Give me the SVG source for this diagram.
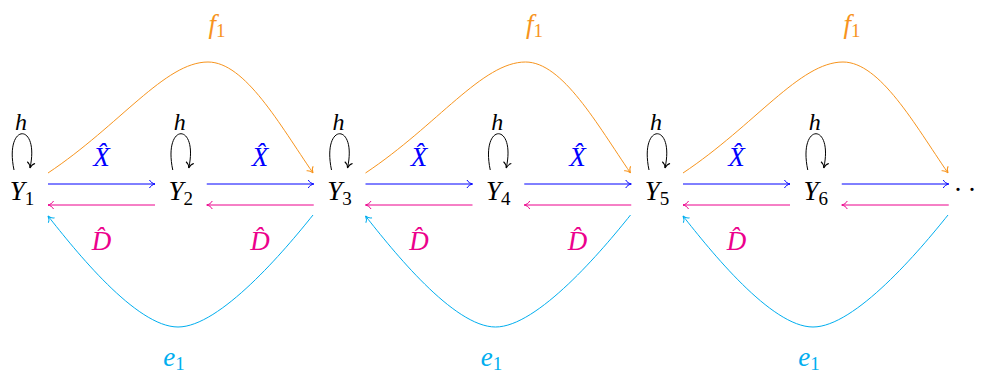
<svg xmlns="http://www.w3.org/2000/svg" width="984" height="379" viewBox="0 0 984 379">
<style>
  text { font-family: "Liberation Serif", "DejaVu Serif", serif; font-size: 27px; text-anchor: middle; }
  .m { font-style: italic; }
  .sub { font-style: normal; font-size: 19px; }
  .hh { font-size: 24px; }
  .blk { fill: #000; }
  .bl { fill: #0000ff; }
  .mg { fill: #ec008c; }
  .or { fill: #f7941d; }
  .cy { fill: #00aeef; }
  .c { fill: none; stroke-width: 1; }
  .sb { stroke: #0000ff; marker-end: url(#ab); }
  .sm { stroke: #ec008c; marker-end: url(#am); }
  .so { stroke: #f7941d; marker-end: url(#ao); }
  .sc { stroke: #00aeef; marker-end: url(#ac); }
  .sk { stroke: #000; marker-end: url(#ak); }
</style>
<defs>
  <marker id="ab" markerUnits="userSpaceOnUse" viewBox="-7 -5 8 10" refX="0" refY="0" markerWidth="8" markerHeight="10" orient="auto" overflow="visible">
    <path d="M-5.5,-4 C-4.5,-1.8 -2,-0.5 0,0 C-2,0.5 -4.5,1.8 -5.5,4" fill="none" stroke="#0000ff" stroke-width="1"/>
  </marker>
  <marker id="am" markerUnits="userSpaceOnUse" viewBox="-7 -5 8 10" refX="0" refY="0" markerWidth="8" markerHeight="10" orient="auto" overflow="visible">
    <path d="M-5.5,-4 C-4.5,-1.8 -2,-0.5 0,0 C-2,0.5 -4.5,1.8 -5.5,4" fill="none" stroke="#ec008c" stroke-width="1"/>
  </marker>
  <marker id="ao" markerUnits="userSpaceOnUse" viewBox="-7 -5 8 10" refX="0" refY="0" markerWidth="8" markerHeight="10" orient="auto" overflow="visible">
    <path d="M-5.5,-4 C-4.5,-1.8 -2,-0.5 0,0 C-2,0.5 -4.5,1.8 -5.5,4" fill="none" stroke="#f7941d" stroke-width="1"/>
  </marker>
  <marker id="ac" markerUnits="userSpaceOnUse" viewBox="-7 -5 8 10" refX="0" refY="0" markerWidth="8" markerHeight="10" orient="auto" overflow="visible">
    <path d="M-5.5,-4 C-4.5,-1.8 -2,-0.5 0,0 C-2,0.5 -4.5,1.8 -5.5,4" fill="none" stroke="#00aeef" stroke-width="1"/>
  </marker>
  <marker id="ak" markerUnits="userSpaceOnUse" viewBox="-7 -5 8 10" refX="0" refY="0" markerWidth="8" markerHeight="10" orient="auto" overflow="visible">
    <path d="M-5.5,-4 C-4.5,-1.8 -2,-0.5 0,0 C-2,0.5 -4.5,1.8 -5.5,4" fill="none" stroke="#000" stroke-width="1"/>
  </marker>
</defs>

<g id="nodes">
  <g id="Y1"><text x="22" y="200" class="m blk">Y<tspan class="sub" dy="5">1</tspan></text></g>
  <g id="Y2"><text x="180.75" y="200" class="m blk">Y<tspan class="sub" dy="5">2</tspan></text></g>
  <g id="Y3"><text x="339.5" y="200" class="m blk">Y<tspan class="sub" dy="5">3</tspan></text></g>
  <g id="Y4"><text x="498.25" y="200" class="m blk">Y<tspan class="sub" dy="5">4</tspan></text></g>
  <g id="Y5"><text x="657" y="200" class="m blk">Y<tspan class="sub" dy="5">5</tspan></text></g>
  <g id="Y6"><text x="815.75" y="200" class="m blk">Y<tspan class="sub" dy="5">6</tspan></text></g>
  <g id="dots"><text x="958 972" y="199" class="blk">··</text></g>
</g>

<g id="connectors">
  <path class="c sk" d="M14,170 C4,122 40,122 30,168"/>
  <path class="c sk" d="M172.75,170 C162.75,122 198.75,122 188.75,168"/>
  <path class="c sk" d="M331.5,170 C321.5,122 357.5,122 347.5,168"/>
  <path class="c sk" d="M490.25,170 C480.25,122 516.25,122 506.25,168"/>
  <path class="c sk" d="M649,170 C639,122 675,122 665,168"/>
  <path class="c sk" d="M807.75,170 C797.75,122 833.75,122 823.75,168"/>
  <path class="c sb" d="M48,184 H155"/>
  <path class="c sb" d="M206.75,184 H313.75"/>
  <path class="c sb" d="M365.5,184 H472.5"/>
  <path class="c sb" d="M524.25,184 H631.25"/>
  <path class="c sb" d="M683,184 H790"/>
  <path class="c sb" d="M841.75,184 H948.75"/>
  <path class="c sm" d="M155,205 H48"/>
  <path class="c sm" d="M313.75,205 H206.75"/>
  <path class="c sm" d="M472.5,205 H365.5"/>
  <path class="c sm" d="M631.25,205 H524.25"/>
  <path class="c sm" d="M790,205 H683"/>
  <path class="c sm" d="M948.75,205 H841.75"/>
  <path class="c so" d="M48,173 C120,125 165,62 208,62 C245,62 280,125 313,173"/>
  <path class="c so" d="M365.5,173 C437.5,125 482.5,62 525.5,62 C562.5,62 597.5,125 630.5,173"/>
  <path class="c so" d="M683,173 C755,125 800,62 843,62 C880,62 915,125 948,173"/>
  <path class="c sc" d="M313,215 C285,250 220,327 178,327 C136,327 75,250 48,216"/>
  <path class="c sc" d="M630.5,215 C602.5,250 537.5,327 495.5,327 C453.5,327 392.5,250 365.5,216"/>
  <path class="c sc" d="M948,215 C920,250 855,327 813,327 C771,327 710,250 683,216"/>
</g>

<g id="labels">
  <text x="21" y="130" class="m blk hh">h</text>
  <text x="179.75" y="130" class="m blk hh">h</text>
  <text x="338.5" y="130" class="m blk hh">h</text>
  <text x="497.25" y="130" class="m blk hh">h</text>
  <text x="656" y="130" class="m blk hh">h</text>
  <text x="814.75" y="130" class="m blk hh">h</text>

  <text x="101.4" y="166" class="m bl">X̂</text>
  <text x="260.1" y="166" class="m bl">X̂</text>
  <text x="418.9" y="166" class="m bl">X̂</text>
  <text x="577.6" y="166" class="m bl">X̂</text>
  <text x="736.4" y="166" class="m bl">X̂</text>

  <text x="101.4" y="250" class="m mg">D̂</text>
  <text x="260.1" y="250" class="m mg">D̂</text>
  <text x="418.9" y="250" class="m mg">D̂</text>
  <text x="577.6" y="250" class="m mg">D̂</text>
  <text x="736.4" y="250" class="m mg">D̂</text>

  <text x="217" y="33" class="m or">f<tspan class="sub" dy="4">1</tspan></text>
  <text x="534.5" y="33" class="m or">f<tspan class="sub" dy="4">1</tspan></text>
  <text x="852" y="33" class="m or">f<tspan class="sub" dy="4">1</tspan></text>

  <text x="174" y="366" class="m cy">e<tspan class="sub" dy="4">1</tspan></text>
  <text x="491.5" y="366" class="m cy">e<tspan class="sub" dy="4">1</tspan></text>
  <text x="809" y="366" class="m cy">e<tspan class="sub" dy="4">1</tspan></text>
</g>
</svg>
